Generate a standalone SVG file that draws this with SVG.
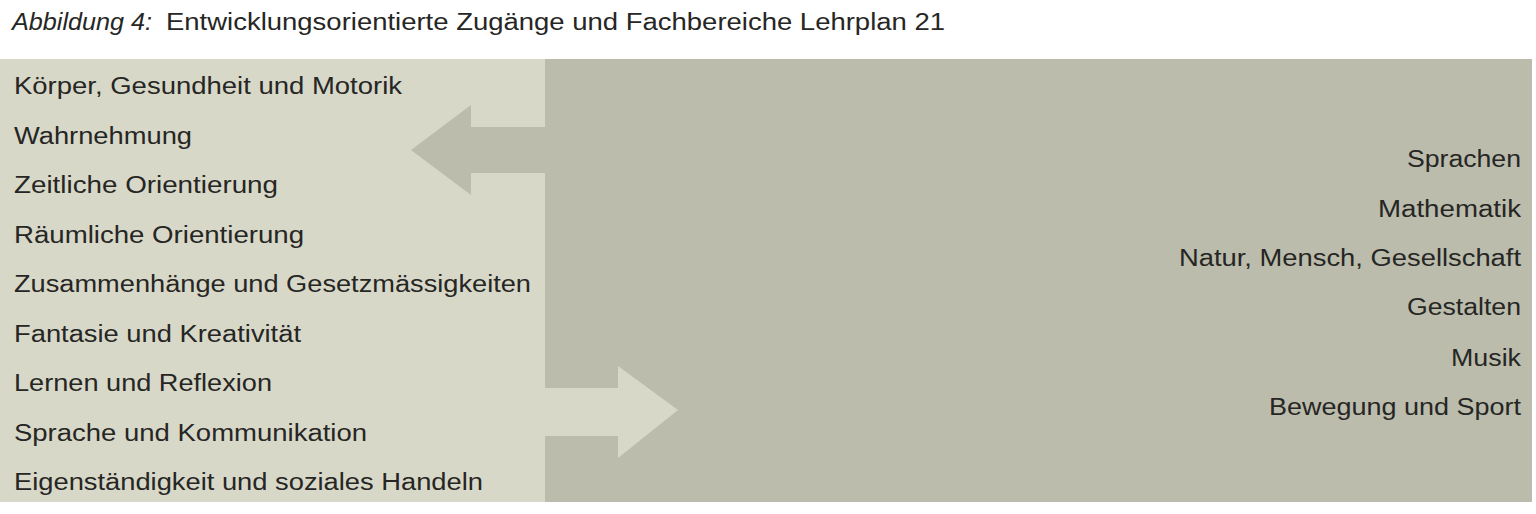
<svg xmlns="http://www.w3.org/2000/svg" width="1536" height="514" viewBox="0 0 1536 514">
<style>
.t{font-family:"Liberation Sans","DejaVu Sans",sans-serif;font-size:23px;fill:#262624}
.title{font-family:"Liberation Sans","DejaVu Sans",sans-serif;font-size:23px;fill:#262624}
</style>
<rect width="1536" height="514" fill="#ffffff"/>
<text class="title" x="12" y="30" font-style="italic" textLength="140" lengthAdjust="spacingAndGlyphs">Abbildung 4:</text>
<text class="title" x="166" y="30" textLength="779" lengthAdjust="spacingAndGlyphs">Entwicklungsorientierte Zugänge und Fachbereiche Lehrplan 21</text>
<g id="left-panel">
<rect x="0" y="59" width="545" height="443" fill="#d8d8c9"/>
</g>
<g id="right-panel">
<rect x="545" y="59" width="987" height="443" fill="#bbbcac"/>
</g>
<g id="connectors">
<polygon points="545,127 471,127 471,105 411,150 471,195 471,173 545,173" fill="#bbbcac"/>
<polygon points="545,388 618,388 618,366 678,410 618,458 618,436 545,436" fill="#d8d8c9"/>
</g>
<g id="zugaenge">
<text class="t" x="14" y="94" textLength="388" lengthAdjust="spacingAndGlyphs">Körper, Gesundheit und Motorik</text>
<text class="t" x="14" y="143.5" textLength="178" lengthAdjust="spacingAndGlyphs">Wahrnehmung</text>
<text class="t" x="14" y="193" textLength="264" lengthAdjust="spacingAndGlyphs">Zeitliche Orientierung</text>
<text class="t" x="14" y="242.5" textLength="290" lengthAdjust="spacingAndGlyphs">Räumliche Orientierung</text>
<text class="t" x="14" y="292" textLength="517" lengthAdjust="spacingAndGlyphs">Zusammenhänge und Gesetzmässigkeiten</text>
<text class="t" x="14" y="341.5" textLength="287" lengthAdjust="spacingAndGlyphs">Fantasie und Kreativität</text>
<text class="t" x="14" y="391" textLength="258" lengthAdjust="spacingAndGlyphs">Lernen und Reflexion</text>
<text class="t" x="14" y="440.5" textLength="353" lengthAdjust="spacingAndGlyphs">Sprache und Kommunikation</text>
<text class="t" x="14" y="490" textLength="469" lengthAdjust="spacingAndGlyphs">Eigenständigkeit und soziales Handeln</text>
</g>
<g id="fachbereiche">
<text class="t" x="1407" y="167" textLength="114" lengthAdjust="spacingAndGlyphs">Sprachen</text>
<text class="t" x="1378" y="217" textLength="143" lengthAdjust="spacingAndGlyphs">Mathematik</text>
<text class="t" x="1179" y="266" textLength="342" lengthAdjust="spacingAndGlyphs">Natur, Mensch, Gesellschaft</text>
<text class="t" x="1407" y="315" textLength="114" lengthAdjust="spacingAndGlyphs">Gestalten</text>
<text class="t" x="1451" y="366" textLength="70" lengthAdjust="spacingAndGlyphs">Musik</text>
<text class="t" x="1269" y="415" textLength="252" lengthAdjust="spacingAndGlyphs">Bewegung und Sport</text>
</g>
</svg>
